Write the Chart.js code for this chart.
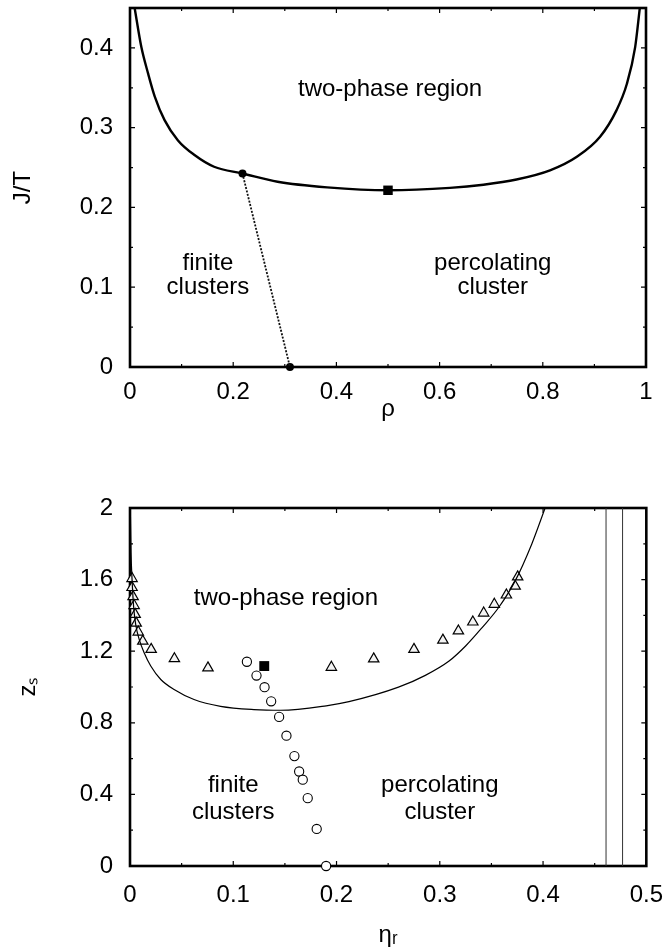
<!DOCTYPE html>
<html><head><meta charset="utf-8">
<script src="https://cdn.jsdelivr.net/npm/chart.js@4"></script>
<style>
html,body{margin:0;padding:0;background:#fff;width:669px;height:947px;overflow:hidden;position:relative}
#c1{position:absolute;left:0;top:-40px}
#c2{position:absolute;left:0;top:440px}
</style>
</head><body>
<canvas id="c1" width="669" height="470"></canvas>
<canvas id="c2" width="678" height="507"></canvas>
<script>
// ---------- top panel data ----------
const topCurveRho = [0.009,0.022,0.035,0.048,0.067,0.093,0.125,0.163,0.218,0.286,0.382,0.5,0.62,0.685,0.749,0.814,0.866,0.911,0.943,0.963,0.979,0.988];
const topCurveJT  = [0.45,0.401,0.368,0.339,0.3095,0.284,0.2657,0.251,0.2426,0.2322,0.2252,0.2215,0.2245,0.2285,0.2350,0.2465,0.2635,0.2886,0.322,0.355,0.401,0.45];
const percLineRho = [0.218,0.31];
const percLineJT  = [0.2426,0.0];
const critRho = [0.5];
const critJT  = [0.2215];
const topXTicks = [0,0.2,0.4,0.6,0.8,1];
const topYTicks = [0,0.1,0.2,0.3,0.4];

// ---------- bottom panel data ----------
const botCurveEta = [0.0003,0.001,0.002,0.0035,0.0055,0.0089,0.0137,0.0201,0.0298,0.0427,0.062,0.0877,0.120,0.146,0.19,0.212,0.260,0.286,0.309,0.325,0.341,0.357,0.373,0.389,0.402];
const botCurveZ   = [2.0,1.75,1.6,1.45,1.35,1.266,1.191,1.117,1.042,0.986,0.930,0.892,0.874,0.870,0.895,0.918,0.999,1.065,1.145,1.229,1.332,1.444,1.593,1.798,2.0];
const triEta = [0.002,0.002,0.003,0.004,0.005,0.006,0.008,0.0124,0.0205,0.043,0.0755,0.195,0.236,0.275,0.303,0.318,0.332,0.3425,0.3528,0.3645,0.373,0.3754];
const triZ   = [1.606,1.556,1.505,1.455,1.406,1.357,1.307,1.256,1.21,1.158,1.107,1.11,1.157,1.21,1.262,1.313,1.363,1.413,1.462,1.514,1.563,1.615];
const circEta = [0.1132,0.1225,0.1303,0.1367,0.1444,0.1515,0.1592,0.1638,0.1673,0.1721,0.1808,0.1899];
const circZ   = [1.141,1.064,0.999,0.920,0.833,0.728,0.614,0.528,0.482,0.379,0.207,0.0];
const botCritEta = [0.130];
const botCritZ   = [1.117];
const vLinesEta = [0.461,0.477];
const botXTicks = [0,0.1,0.2,0.3,0.4,0.5];
const botYTicks = [0,0.4,0.8,1.2,1.6,2];

const FONT = "'Liberation Sans', Arial, Helvetica, sans-serif";
const FS = 24;
Chart.defaults.font.family = FONT;
Chart.defaults.font.size = FS;
Chart.defaults.color = '#000';

const pts = (xs, ys) => xs.map((x, i) => ({x, y: ys[i]}));
const fmt = v => String(+(+v).toFixed(2));

// frame + inward ticks (gnuplot style)
const framePlugin = {
  id: 'gframe',
  beforeDatasetsDraw(chart, args, opts) {
    const {ctx, chartArea: a, scales: {x, y}} = chart;
    ctx.save();
    ctx.strokeStyle = '#000';
    const drawTicks = (vals, len, horiz) => {
      ctx.lineWidth = 1.2;
      ctx.beginPath();
      vals.forEach(v => {
        if (horiz) {
          const p = x.getPixelForValue(v);
          ctx.moveTo(p, a.bottom); ctx.lineTo(p, a.bottom - len);
          ctx.moveTo(p, a.top); ctx.lineTo(p, a.top + len);
        } else {
          const p = y.getPixelForValue(v);
          ctx.moveTo(a.left, p); ctx.lineTo(a.left + len, p);
          ctx.moveTo(a.right, p); ctx.lineTo(a.right - len, p);
        }
      });
      ctx.stroke();
    };
    const xt = x.ticks.map(t => t.value), yt = y.ticks.map(t => t.value);
    const mids = arr => { const m = []; for (let i = 0; i < arr.length - 1; i++) m.push((arr[i] + arr[i+1]) / 2); return m; };
    let ymid = mids(yt);
    if (yt[yt.length-1] + (yt[1]-yt[0])/2 <= y.max + 1e-9) ymid.push(yt[yt.length-1] + (yt[1]-yt[0])/2);
    drawTicks(xt, 5, true); drawTicks(mids(xt), 3, true);
    drawTicks(yt, 5, false); drawTicks(ymid, 3, false);
    ctx.lineWidth = opts.width || 2.5;
    ctx.strokeRect(a.left, a.top, a.right - a.left, a.bottom - a.top);
    ctx.restore();
  }
};

// in-plot region labels
const labelPlugin = {
  id: 'glabels',
  afterDatasetsDraw(chart, args, opts) {
    const {ctx, scales: {x, y}} = chart;
    ctx.save();
    ctx.fillStyle = '#000';
    ctx.font = FS + 'px ' + FONT;
    ctx.textAlign = 'center';
    ctx.textBaseline = 'middle';
    (opts.items || []).forEach(it => {
      ctx.fillText(it.text, x.getPixelForValue(it.x), y.getPixelForValue(it.y));
    });
    ctx.restore();
  }
};

function axes(xmin, xmax, xticks, ymin, ymax, yticks, xTitle, yTitle, xAxisH, xTickPad, xTitlePad, yTitlePad) {
  return {
    x: {
      type: 'linear', min: xmin, max: xmax,
      afterBuildTicks: s => { s.ticks = xticks.map(v => ({value: v})); },
      afterFit: s => { s.height = xAxisH; },
      grid: {display: false, drawTicks: false},
      border: {display: false},
      ticks: {padding: xTickPad, callback: fmt, maxRotation: 0, autoSkip: false},
      title: {display: true, text: xTitle, font: {size: FS, lineHeight: 1}, padding: {top: 0, bottom: xTitlePad}}
    },
    y: {
      type: 'linear', min: ymin, max: ymax,
      afterBuildTicks: s => { s.ticks = yticks.map(v => ({value: v})); },
      afterFit: s => { s.width = 130; },
      grid: {display: false, drawTicks: false},
      border: {display: false},
      ticks: {padding: 17, callback: fmt, autoSkip: false},
      title: {display: true, text: yTitle, font: {size: FS, lineHeight: 1}, padding: {top: yTitlePad, bottom: 0}}
    }
  };
}

new Chart(document.getElementById('c1'), {
  type: 'scatter',
  data: {datasets: [
    {data: pts(topCurveRho, topCurveJT), showLine: true, borderColor: '#000', borderWidth: 2.4, pointRadius: 0, cubicInterpolationMode: 'monotone'},
    {data: pts(percLineRho, percLineJT), showLine: true, borderColor: '#111', borderWidth: 1.8, borderDash: [2, 1.5], pointRadius: 0},
    {data: pts(percLineRho, percLineJT), showLine: false, pointStyle: 'circle', pointRadius: 4, backgroundColor: '#000', borderColor: '#000', borderWidth: 0, clip: false},
    {data: pts(critRho, critJT), showLine: false, pointStyle: 'rect', pointRadius: 6.7, backgroundColor: '#000', borderColor: '#000', borderWidth: 0, clip: false}
  ]},
  options: {
    responsive: false, animation: false, events: [],
    layout: {padding: {left: 0, right: 23, top: 48, bottom: 0}},
    plugins: {legend: {display: false}, tooltip: {enabled: false},
      gframe: {width: 2.6},
      glabels: {items: [
        {text: 'two-phase region', x: 0.504, y: 0.348},
        {text: 'finite', x: 0.151, y: 0.13},
        {text: 'clusters', x: 0.151, y: 0.10},
        {text: 'percolating', x: 0.703, y: 0.13},
        {text: 'cluster', x: 0.703, y: 0.10}
      ]}
    },
    scales: axes(0, 1, topXTicks, 0, 0.45, topYTicks, 'ρ', 'J/T', 63, 11, 9, 11)
  },
  plugins: [framePlugin, labelPlugin]
});

new Chart(document.getElementById('c2'), {
  type: 'scatter',
  data: {datasets: [
    {data: pts(botCurveEta, botCurveZ), showLine: true, borderColor: '#000', borderWidth: 1.2, pointRadius: 0, cubicInterpolationMode: 'monotone'},
    {data: pts([vLinesEta[0], vLinesEta[0]], [0, 2]), showLine: true, borderColor: '#333', borderWidth: 1, pointRadius: 0},
    {data: pts([vLinesEta[1], vLinesEta[1]], [0, 2]), showLine: true, borderColor: '#333', borderWidth: 1, pointRadius: 0},
    {data: pts(triEta, triZ), showLine: false, pointStyle: 'triangle', pointRadius: 6, backgroundColor: '#f4f4f4', borderColor: '#000', borderWidth: 1.2, clip: false},
    {data: pts(circEta, circZ), showLine: false, pointStyle: 'circle', pointRadius: 4.6, backgroundColor: '#fff', borderColor: '#000', borderWidth: 1.1, clip: false},
    {data: pts(triEta.concat(circEta), triZ.concat(circZ)), showLine: false, pointStyle: 'circle', pointRadius: 0.8, backgroundColor: '#222', borderWidth: 0, clip: false},
    {data: pts(botCritEta, botCritZ), showLine: false, pointStyle: 'rect', pointRadius: 7, backgroundColor: '#000', borderColor: '#000', borderWidth: 0, clip: false}
  ]},
  options: {
    responsive: false, animation: false, events: [],
    layout: {padding: {left: 0, right: 23, top: 68, bottom: 0}},
    plugins: {legend: {display: false}, tooltip: {enabled: false},
      gframe: {width: 2.6},
      glabels: {items: [
        {text: 'two-phase region', x: 0.151, y: 1.496},
        {text: 'finite', x: 0.1, y: 0.448},
        {text: 'clusters', x: 0.1, y: 0.30},
        {text: 'percolating', x: 0.300, y: 0.448},
        {text: 'cluster', x: 0.300, y: 0.30}
      ]}
    },
    scales: axes(0, 0.5, botXTicks, 0, 2, botYTicks, 'ηᵣ', 'zₛ', 81, 15, 0, 16)
  },
  plugins: [framePlugin, labelPlugin]
});
</script>
</body></html>
